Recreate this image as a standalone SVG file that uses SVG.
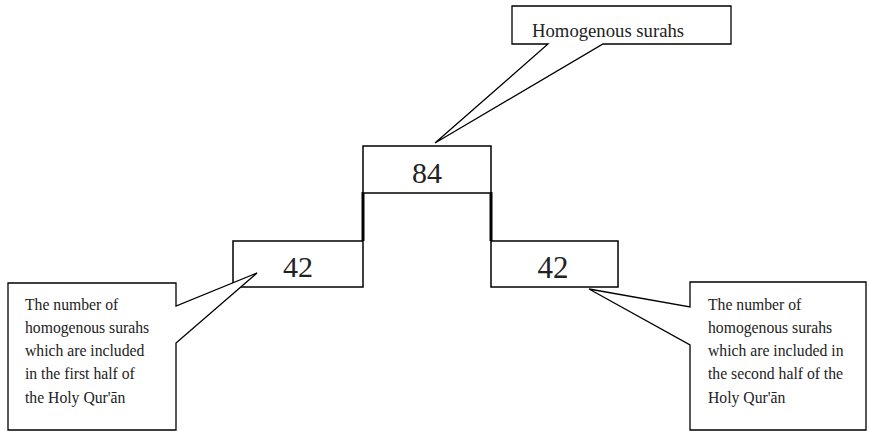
<svg xmlns="http://www.w3.org/2000/svg" width="869" height="432" viewBox="0 0 869 432">
<style>
.box{fill:#fff;stroke:#000;stroke-width:1.5}
.call{fill:#fff;stroke:#000;stroke-width:1.3;stroke-linejoin:miter}
.t{font-family:"Liberation Serif","Times New Roman",serif;fill:#222}
.num{font-size:30px;text-anchor:middle}
.lab{font-size:15.7px}
.conn{stroke:#000;stroke-width:3;fill:none}
</style>
<rect width="869" height="432" fill="#fff"/>
<g id="connectors">
<line class="conn" x1="363" y1="192" x2="363" y2="241"/>
<line class="conn" x1="491" y1="192" x2="491" y2="241"/>
</g>
<g id="node-84">
<rect class="box" x="363" y="146" width="128" height="47"/>
<text class="t num" x="427" y="183">84</text>
</g>
<g id="node-42-left">
<rect class="box" x="233" y="241" width="130" height="46"/>
<text class="t num" x="298" y="277">42</text>
</g>
<g id="node-42-right">
<rect class="box" x="491" y="241" width="127" height="46"/>
<text class="t num" x="553" y="278" style="font-size:31px">42</text>
</g>
<g id="callout-top">
<path class="call" d="M512,6 H731 V44 H603 L435,143 L548,44 H512 Z"/>
<text class="t" x="532" y="37" style="font-size:18.7px">Homogenous surahs</text>
</g>
<g id="callout-left">
<path class="call" d="M8,283 H176 V306 L257,273 L176,343 V430 H8 Z"/>
<text class="t lab" x="25" y="310">The number of</text>
<text class="t lab" x="25" y="333">homogenous surahs</text>
<text class="t lab" x="25" y="356">which are included</text>
<text class="t lab" x="25" y="379">in the first half of</text>
<text class="t lab" x="25" y="403">the Holy Qur'ān</text>
</g>
<g id="callout-right">
<path class="call" d="M690,282 H866 V430 H690 V345 L589,289 L690,307 Z"/>
<text class="t lab" x="708" y="310">The number of</text>
<text class="t lab" x="708" y="333">homogenous surahs</text>
<text class="t lab" x="708" y="356">which are included in</text>
<text class="t lab" x="708" y="379">the second half of the</text>
<text class="t lab" x="708" y="403">Holy Qur'ān</text>
</g>
</svg>
